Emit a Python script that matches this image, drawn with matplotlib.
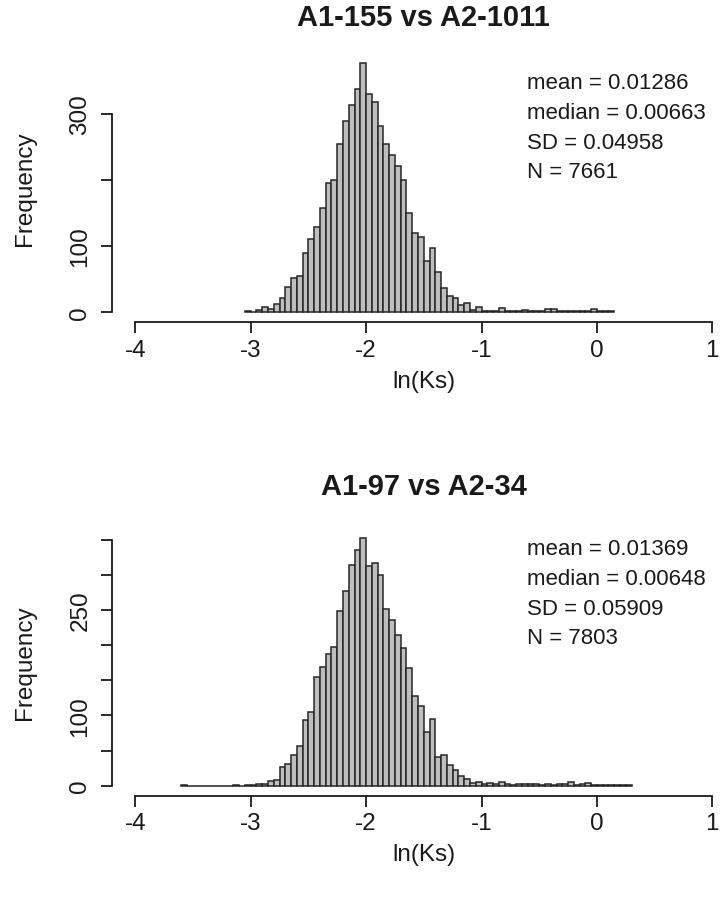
import numpy as np
import matplotlib
matplotlib.use("Agg")
import matplotlib.pyplot as plt

W, H = 728, 903
plt.rcParams['font.family'] = ['Liberation Sans', 'DejaVu Sans']
plt.rcParams['axes.unicode_minus'] = False

# ---------------- data ----------------
titles = ["A1-155 vs A2-1011", "A1-97 vs A2-34"]
stats_top = ["mean = 0.01286", "median = 0.00663", "SD = 0.04958", "N = 7661"]
stats_bot = ["mean = 0.01369", "median = 0.00648", "SD = 0.05909", "N = 7803"]

bin_width = 0.05
top_start = -3.05
bot_start = -3.60

top_counts = [1, 0, 3, 8, 5, 12, 22, 38, 51, 55,
              90, 110, 129, 158, 195, 200, 254, 290, 314, 338,
              378, 331, 319, 282, 255, 238, 221, 200, 150, 119,
              114, 77, 97, 60, 36, 24, 22, 10, 13, 3,
              8, 2, 1, 2, 6, 1, 1, 2, 3, 2,
              2, 1, 4, 4, 2, 2, 2, 2, 1, 2,
              4, 2, 1, 1]

bot_counts = [1, 0, 0, 0, 0, 0, 0, 0, 0, 1,
              0, 1, 1, 2, 3, 6, 8, 27, 31, 43,
              56, 93, 105, 154, 169, 187, 197, 248, 277, 314,
              335, 353, 312, 317, 299, 252, 236, 215, 196, 167,
              128, 114, 77, 95, 41, 44, 30, 22, 14, 10,
              4, 5, 3, 4, 3, 5, 2, 1, 3, 3,
              2, 2, 1, 3, 1, 2, 2, 5, 1, 3,
              4, 1, 1, 1, 1, 1, 1, 1]

x_ticks = [-4, -3, -2, -1, 0, 1]
x_ticklabels = ["-4", "-3", "-2", "-1", "0", "1"]
top_yticks = [0, 100, 200, 300]
top_yticklabels = ["0", "100", "", "300"]
bot_yticks = [0, 50, 100, 150, 200, 250, 300, 350]
bot_yticklabels = ["0", "", "100", "", "", "250", "", ""]

# ---------------- drawing ----------------
fig = plt.figure(figsize=(W / 100, H / 100), dpi=100)
fig.patch.set_facecolor("white")
txt_col = "#1a1a1a"
FS_AX = 17.5
FS_ST = 16


def fx(px):
    return px / W


def fy(py):
    return 1 - py / H


def panel(rect_px, start, counts, yticks, yticklabels, title, stats, title_y, xlab_y, stats_y0):
    left, top, right, bottom = rect_px
    ax = fig.add_axes([fx(left), fy(bottom), (right - left) / W, (bottom - top) / H])
    edges = start + bin_width * np.arange(len(counts) + 1)
    ax.bar(edges[:-1], counts, width=bin_width, align="edge",
           color="#bebebe", edgecolor="#262626", linewidth=1.1)
    ymax = max(counts)
    ax.set_ylim(-0.04 * ymax, 1.04 * ymax)
    ax.set_xlim(-4.2, 1.2)
    for s in ("top", "right"):
        ax.spines[s].set_visible(False)
    ax.spines["left"].set_bounds(yticks[0], yticks[-1])
    ax.spines["bottom"].set_bounds(x_ticks[0], x_ticks[-1])
    for s in ("left", "bottom"):
        ax.spines[s].set_linewidth(1.3)
        ax.spines[s].set_color(txt_col)
    ax.set_xticks(x_ticks)
    ax.set_xticklabels(x_ticklabels)
    ax.set_yticks(yticks)
    ax.set_yticklabels(yticklabels)
    ax.tick_params(axis="both", direction="out", length=8, width=1.3,
                   colors=txt_col, labelsize=FS_AX)
    ax.tick_params(axis="x", pad=4)
    ax.tick_params(axis="y", pad=7)
    for lbl in ax.get_yticklabels():
        lbl.set_rotation(90)
        lbl.set_va("center")
    ax.patch.set_alpha(0)
    cx = (left + right) / 2
    fig.text(fx(cx), fy(title_y), title, ha="center", va="center",
             fontsize=21, fontweight="bold", color=txt_col)
    fig.text(fx(cx), fy(xlab_y), "ln(Ks)", ha="center", va="center",
             fontsize=FS_AX, color=txt_col)
    fig.text(fx(25), fy((top + bottom) / 2), "Frequency", ha="center", va="center",
             rotation=90, fontsize=FS_AX, color=txt_col)
    for i, s in enumerate(stats):
        fig.text(fx(527), fy(stats_y0 + i * 29.6), s, ha="left", va="center",
                 fontsize=FS_ST, color=txt_col)
    return ax


panel((112.2, 53.6, 735.4, 323.0), top_start, top_counts, top_yticks, top_yticklabels,
      titles[0], stats_top, 18, 382, 84)
panel((112.2, 528.6, 735.4, 796.6), bot_start, bot_counts, bot_yticks, bot_yticklabels,
      titles[1], stats_bot, 487, 855, 550)

fig.savefig("out.png", dpi=100, facecolor="white")
